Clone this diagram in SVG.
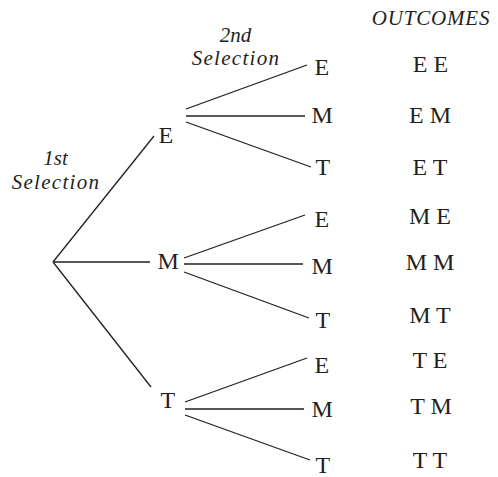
<svg xmlns="http://www.w3.org/2000/svg" width="498" height="477" viewBox="0 0 498 477">
<style>
text{font-family:'Liberation Serif',Tinos,'Times New Roman',Times,serif;fill:#231f20}
.lbl{font-size:24px}
.out{font-size:24px;text-anchor:middle}
.hd{font-style:italic;font-size:21px;text-anchor:middle}
.edge{stroke:#231f20;stroke-width:1.3;fill:none}
</style>
<rect width="498" height="477" fill="#fff"/>
<g id="headings">
<text class="hd" x="55.5" y="165" font-family="Liberation Serif">1st</text>
<text class="hd" x="56" y="189" letter-spacing="1.3" font-family="Liberation Serif">Selection</text>
<text class="hd" x="235.5" y="42" font-family="Liberation Serif">2nd</text>
<text class="hd" x="236" y="65" letter-spacing="1.3" font-family="Liberation Serif">Selection</text>
<text class="hd" x="431" y="25" letter-spacing="0.8" font-family="Liberation Serif">OUTCOMES</text>
</g>
<g id="connectors">
<line class="edge" x1="53" y1="262" x2="154" y2="136"/>
<line class="edge" x1="53" y1="262" x2="150" y2="262"/>
<line class="edge" x1="53" y1="262" x2="151" y2="387"/>
<line class="edge" x1="186" y1="109" x2="307" y2="65"/>
<line class="edge" x1="186" y1="116" x2="305" y2="116"/>
<line class="edge" x1="186" y1="122" x2="311" y2="167"/>
<line class="edge" x1="184" y1="258" x2="305" y2="215"/>
<line class="edge" x1="184" y1="264" x2="303" y2="264"/>
<line class="edge" x1="184" y1="272" x2="309" y2="318"/>
<line class="edge" x1="185" y1="402" x2="307" y2="358"/>
<line class="edge" x1="185" y1="409" x2="304" y2="409"/>
<line class="edge" x1="185" y1="415" x2="310" y2="460"/>
</g>
<g id="n-E1"><text class="lbl" x="158.5" y="143" font-family="Liberation Serif">E</text></g>
<g id="n-M1"><text class="lbl" x="157.5" y="269" font-family="Liberation Serif">M</text></g>
<g id="n-T1"><text class="lbl" x="160.5" y="408" font-family="Liberation Serif">T</text></g>
<g id="n-EE"><text class="lbl" x="314.5" y="75" font-family="Liberation Serif">E</text></g>
<g id="n-EM"><text class="lbl" x="311.5" y="123" font-family="Liberation Serif">M</text></g>
<g id="n-ET"><text class="lbl" x="315.5" y="175" font-family="Liberation Serif">T</text></g>
<g id="n-ME"><text class="lbl" x="314.5" y="227" font-family="Liberation Serif">E</text></g>
<g id="n-MM"><text class="lbl" x="311.5" y="274" font-family="Liberation Serif">M</text></g>
<g id="n-MT"><text class="lbl" x="315.5" y="328" font-family="Liberation Serif">T</text></g>
<g id="n-TE"><text class="lbl" x="314.5" y="373" font-family="Liberation Serif">E</text></g>
<g id="n-TM"><text class="lbl" x="311.5" y="417" font-family="Liberation Serif">M</text></g>
<g id="n-TT"><text class="lbl" x="315.5" y="473" font-family="Liberation Serif">T</text></g>
<g id="outcomes" font-family="Liberation Serif">
<text class="out" x="430.5" y="72">E E</text>
<text class="out" x="430" y="123">E M</text>
<text class="out" x="430" y="175">E T</text>
<text class="out" x="430" y="224">M E</text>
<text class="out" x="430" y="270">M M</text>
<text class="out" x="430" y="323">M T</text>
<text class="out" x="430" y="368">T E</text>
<text class="out" x="431" y="414">T M</text>
<text class="out" x="430" y="468">T T</text>
</g>
</svg>
